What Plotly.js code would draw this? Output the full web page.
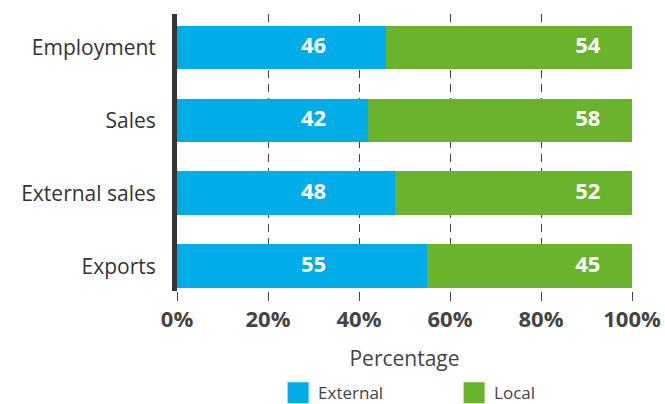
<!DOCTYPE html>
<html>
<head>
<meta charset="utf-8">
<script src="https://cdn.plot.ly/plotly-3.0.1.min.js"></script>
<style>html,body{margin:0;padding:0;background:#fff;}#chart{width:665px;height:404px;}</style>
</head>
<body>
<div id="chart"></div>
<script>
const categories = ["Employment", "Sales", "External sales", "Exports"];
const externalValues = [46, 42, 48, 55];
const localValues = [54, 58, 52, 45];
const tickValues = [0, 20, 40, 60, 80, 100];
const tickLabels = ["0%", "20%", "40%", "60%", "80%", "100%"];

const BLUE = "#00ADE8";
const GREEN = "#6AB42D";
const FONT = "Open Sans, sans-serif";

const traces = [
  {type: "bar", orientation: "h", name: "External", y: categories, x: externalValues,
   marker: {color: BLUE}, showlegend: false, hoverinfo: "x+y"},
  {type: "bar", orientation: "h", name: "Local", y: categories, x: localValues,
   marker: {color: GREEN}, showlegend: false, hoverinfo: "x+y"},
  {type: "scatter", mode: "text", y: categories, x: categories.map(() => 30),
   text: externalValues.map(String), textposition: "middle center",
   textfont: {family: FONT, size: 22, color: "#fff", weight: "bold"},
   showlegend: false, hoverinfo: "skip"},
  {type: "scatter", mode: "text", y: categories, x: categories.map(() => 90.3),
   text: localValues.map(String), textposition: "middle center",
   textfont: {family: FONT, size: 22, color: "#fff", weight: "bold"},
   showlegend: false, hoverinfo: "skip"},
  {type: "scatter", mode: "markers", name: "External", x: [null], y: [null],
   marker: {symbol: "square", size: 16, color: BLUE, line: {color: BLUE, width: 5}}},
  {type: "scatter", mode: "markers", name: "Local", x: [null], y: [null],
   marker: {symbol: "square", size: 16, color: GREEN, line: {color: GREEN, width: 5}}}
];

const layout = {
  width: 665, height: 404,
  margin: {l: 177, r: 33, t: 14, b: 113, autoexpand: false},
  paper_bgcolor: "#fff", plot_bgcolor: "#fff",
  barmode: "stack", bargap: 0.4,
  font: {family: FONT, color: "#444"},
  xaxis: {
    range: [0, 100], tickvals: tickValues, ticktext: tickLabels,
    tickfont: {family: FONT, size: 22, color: "#444", weight: "bold"},
    ticks: "outside", ticklen: 9, tickcolor: "#444", tickwidth: 1,
    showgrid: true, gridcolor: "#444", gridwidth: 1, griddash: "8px,6px",
    zeroline: false, showline: false, fixedrange: true, automargin: false,
    title: {text: "Percentage", font: {family: FONT, size: 21, color: "#444"}, standoff: 18}
  },
  yaxis: {
    type: "category", categoryorder: "array", categoryarray: categories,
    range: [3.34, -0.46],
    tickfont: {family: FONT, size: 21, color: "#333"},
    ticks: "", ticklabelstandoff: 12, automargin: false,
    showline: true, linecolor: "#333", linewidth: 5,
    showgrid: false, zeroline: false, fixedrange: true
  },
  showlegend: true,
  legend: {
    orientation: "h", x: 0.609, xanchor: "center",
    yref: "container", y: 0.027, yanchor: "middle",
    traceorder: "normal",
    font: {family: FONT, size: 17, color: "#444"},
    entrywidth: 131, entrywidthmode: "pixels", itemclick: false, itemdoubleclick: false
  }
};

Plotly.newPlot("chart", traces, layout, {displayModeBar: false, staticPlot: true});
</script>
</body>
</html>
